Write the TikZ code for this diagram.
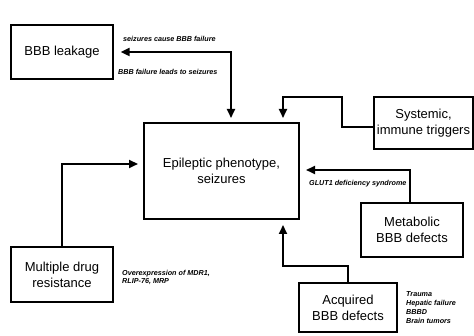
\documentclass[tikz,border=0pt]{standalone}
\usepackage{fontspec}
\setmainfont{Liberation Sans}
\usetikzlibrary{arrows.meta}
\begin{document}
\begin{tikzpicture}[x=1pt,y=1pt,
  box/.style={draw, line width=1.3pt, align=center, inner sep=0pt,
    font=\fontsize{13}{16}\selectfont},
  conn/.style={line width=2pt, line join=miter},
  tip/.style={-{Triangle[length=9pt,width=8pt]}},
  lbl/.style={inner sep=0pt, anchor=west, align=left,
    font=\fontsize{7.2}{8}\selectfont\bfseries\itshape}]
\useasboundingbox (0,0) rectangle (474,336);
% boxes
\node[box, minimum width=102pt, minimum height=54pt] (leak) at (62,284) {BBB leakage};
\node[box, minimum width=155pt, minimum height=96pt] (pheno) at (221.5,165) {Epileptic phenotype,\\seizures};
\node[box, minimum width=99pt, minimum height=52pt] (sys) at (423.5,213) {Systemic,\\immune triggers};
\node[box, minimum width=102pt, minimum height=54pt] (meta) at (412,106) {Metabolic\\BBB defects};
\node[box, minimum width=98pt, minimum height=49pt] (acq) at (348,28.5) {Acquired\\BBB defects};
\node[box, minimum width=102pt, minimum height=55pt] (mdr) at (62,61.5) {Multiple drug\\resistance};
% helper coordinates
\coordinate (p1) at (231,213);
\coordinate (k1) at (342,239);
\coordinate (p2) at (283,213);
\coordinate (p3) at (299,166);
\coordinate (a1) at (283,70);
\coordinate (p4) at (283,117);
\coordinate (p5) at (144,172);
% connectors
\draw[conn, {Triangle[length=9pt,width=8pt]}-{Triangle[length=9pt,width=8pt]}, shorten <=7pt, shorten >=5pt] (leak.east) -| (p1);
\draw[conn, tip, shorten >=5pt] ([yshift=-4pt]sys.west) -| (k1) -| (p2);
\draw[conn, tip, shorten >=7pt] ([xshift=-2pt]meta.north) |- (p3);
\draw[conn, tip, shorten >=6pt] (acq.north) |- (a1) -- (p4);
\draw[conn, tip, shorten >=6pt] (mdr.north) |- (p5);
% labels
\node[lbl] (l1) at (123,297) {seizures cause BBB failure};
\node[lbl] (l2) at (118,264) {BBB failure leads to seizures};
\node[lbl] (l3) at (309,152) {GLUT1 deficiency syndrome};
\node[lbl] (l4) at (122,59) {Overexpression of MDR1,\\RLIP-76, MRP};
\node[lbl, font=\fontsize{7.2}{9}\selectfont\bfseries\itshape] (l5) at (406,28) {Trauma\\Hepatic failure\\BBBD\\Brain tumors};
\end{tikzpicture}
\end{document}
